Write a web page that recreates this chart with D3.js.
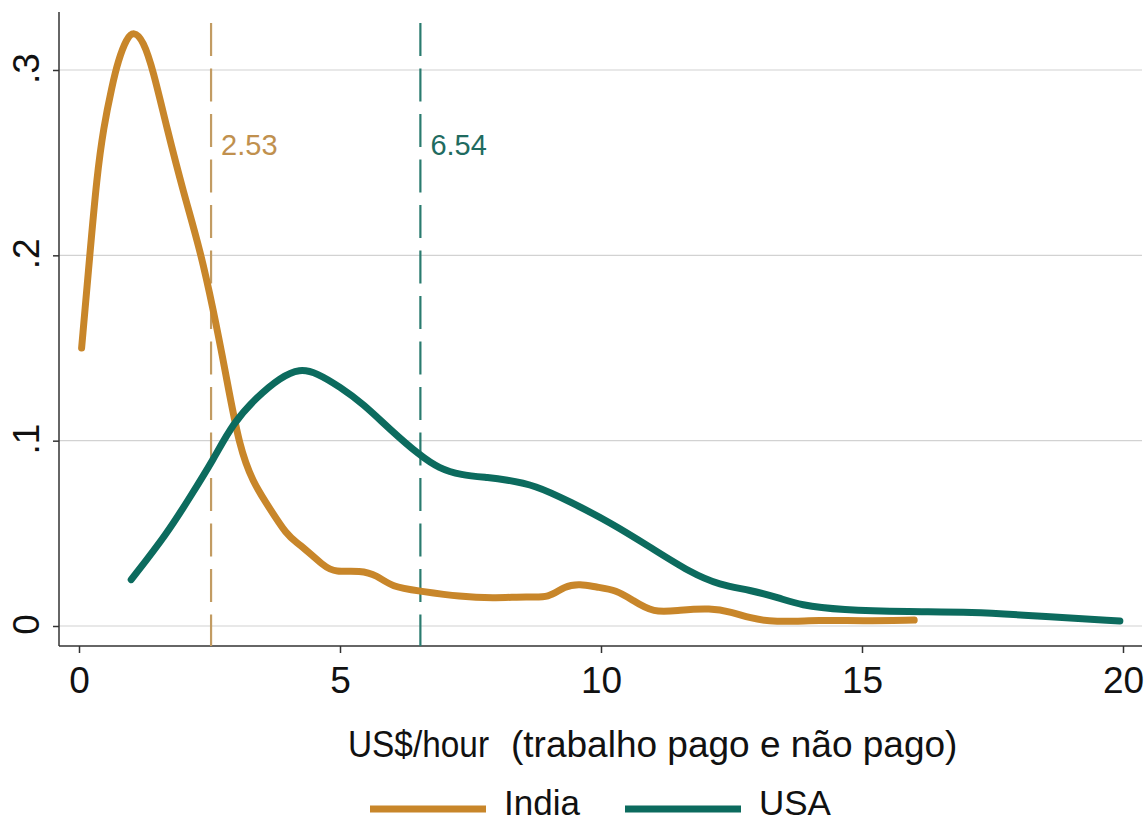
<!DOCTYPE html>
<html>
<head>
<meta charset="utf-8">
<script src="https://cdn.jsdelivr.net/npm/d3@7"></script>
<style>
  body { margin: 0; background: #fff; }
  svg { display: block; font-family: "Liberation Sans", Arial, sans-serif; }
</style>
</head>
<body>
<div id="chart"></div>
<script>
// density of hourly value (US$/hour)
const indiaX = [0.05, 0.21, 0.34, 0.47, 0.63, 0.75, 0.91, 1.05, 1.23, 1.42, 1.68, 2.0, 2.32, 2.57, 2.8, 3.08, 3.35, 3.55, 4.0, 4.2, 4.7, 4.9, 5.4, 5.7, 6.0, 6.5, 7.3, 8.0, 8.6, 9.0, 9.3, 9.6, 9.9, 10.3, 10.6, 11.0, 11.5, 12.1, 12.5, 12.85, 13.3, 14.2, 15.0, 16.0];
const indiaY = [0.150, 0.201, 0.242, 0.269, 0.291, 0.305, 0.317, 0.321, 0.316, 0.300, 0.269, 0.234, 0.203, 0.171, 0.138, 0.095, 0.077, 0.068, 0.048, 0.045, 0.032, 0.029, 0.030, 0.0275, 0.021, 0.019, 0.0157, 0.015, 0.016, 0.015, 0.0216, 0.0227, 0.021, 0.0194, 0.014, 0.007, 0.0086, 0.0097, 0.0076, 0.0043, 0.002, 0.0032, 0.0027, 0.0032];

const usaX = [1.0, 1.69, 2.13, 2.57, 2.95, 3.41, 3.85, 4.23, 4.56, 5.0, 5.44, 5.96, 6.53, 6.9, 7.3, 7.87, 8.16, 8.74, 9.41, 10.17, 10.94, 11.7, 12.28, 12.85, 13.43, 13.81, 14.58, 15.92, 17.07, 18.41, 19.94];
const usaY = [0.025, 0.050, 0.0697, 0.0896, 0.1095, 0.1236, 0.134, 0.139, 0.1365, 0.129, 0.120, 0.106, 0.092, 0.085, 0.0815, 0.080, 0.079, 0.076, 0.067, 0.056, 0.0426, 0.029, 0.022, 0.0195, 0.015, 0.0113, 0.0086, 0.0076, 0.0076, 0.0054, 0.0027];

const meanValues = [2.53, 6.54];
const meanLabels = ["2.53", "6.54"];
const seriesNames = ["India", "USA"];

const xTicks = [0, 5, 10, 15, 20];
const yTicks = [0, 0.1, 0.2, 0.3];
const yTickLabels = ["0", ".1", ".2", ".3"];

const colors = ["#c8862a", "#0c6b5e"];
const dashColors = ["#c29b62", "#2a7b6f"];
const labelColors = ["#c0904e", "#1f6b60"];

var width = 1146, height = 823;
var plot = {left: 59, right: 1142, top: 12, bottom: 646};

const svg = d3.select("#chart")
  .append("svg")
    .attr("width", width)
    .attr("height", height);

var x = d3.scaleLinear().domain([0, 20]).range([79, 1123]);
var y = d3.scaleLinear().domain([0, 0.3]).range([626, 70]);

// gridlines
svg.append("g")
  .selectAll("line")
  .data(yTicks)
  .enter()
  .append("line")
    .attr("x1", plot.left)
    .attr("x2", plot.right)
    .attr("y1", d => y(d))
    .attr("y2", d => y(d))
    .attr("stroke", "#d2d2d2")
    .attr("stroke-width", 1.2);

// Y axis
const yAxis = svg.append("g")
  .attr("transform", `translate(${plot.left},0)`)
  .call(d3.axisLeft(y).tickValues(yTicks).tickSize(6).tickFormat((d, i) => yTickLabels[i]));
yAxis.select(".domain").attr("d", `M0,${plot.top}V${plot.bottom}`).attr("stroke", "#333").attr("stroke-width", 1.5);
yAxis.selectAll(".tick line").attr("stroke", "#333").attr("stroke-width", 1.5);
yAxis.selectAll(".tick text")
  .attr("font-size", 37)
  .attr("fill", "#111")
  .attr("text-anchor", "middle")
  .attr("x", 0).attr("y", 0).attr("dy", 0)
  .attr("dominant-baseline", "central")
  .attr("transform", "translate(-33,-2)rotate(-90)");

// X axis
const xAxis = svg.append("g")
  .attr("transform", `translate(0,${plot.bottom})`)
  .call(d3.axisBottom(x).tickValues(xTicks).tickSize(7).tickFormat(d3.format("d")));
xAxis.select(".domain").attr("d", `M${plot.left},0H${plot.right}`).attr("stroke", "#333").attr("stroke-width", 1.5);
xAxis.selectAll(".tick line").attr("stroke", "#333").attr("stroke-width", 1.5);
xAxis.selectAll(".tick text")
  .attr("font-size", 37)
  .attr("fill", "#111")
  .attr("x", 0)
  .attr("y", 47)
  .attr("dy", 0);

// dashed mean lines
meanValues.forEach((m, i) => {
  svg.append("line")
    .attr("x1", x(m)).attr("x2", x(m))
    .attr("y1", plot.top).attr("y2", plot.bottom)
    .attr("stroke", dashColors[i])
    .attr("stroke-width", 2.2)
    .attr("stroke-dasharray", "33,12.5")
    .attr("stroke-dashoffset", 34.5);
  svg.append("text")
    .attr("x", x(m) + 10)
    .attr("y", 155)
    .attr("font-size", 29)
    .attr("fill", labelColors[i])
    .text(meanLabels[i]);
});

// density lines
var line = d3.line()
  .x(d => x(d[0]))
  .y(d => y(d[1]))
  .curve(d3.curveBasis);

const series = [d3.zip(indiaX, indiaY), d3.zip(usaX, usaY)];
series.forEach((s, i) => {
  svg.append("path")
    .datum(s)
    .attr("d", line)
    .attr("fill", "none")
    .attr("stroke", colors[i])
    .attr("stroke-width", 7)
    .attr("stroke-linecap", "round")
    .attr("stroke-linejoin", "round");
});

// axis title
svg.append("text")
  .attr("x", 348)
  .attr("y", 757)
  .attr("font-size", 37)
  .attr("fill", "#111")
  .attr("textLength", 141)
  .attr("lengthAdjust", "spacingAndGlyphs")
  .text("US$/hour");
svg.append("text")
  .attr("x", 511)
  .attr("y", 757)
  .attr("font-size", 37)
  .attr("fill", "#111")
  .text("(trabalho pago e não pago)");

// legend
var legX = [370, 625];
seriesNames.forEach((n, i) => {
  svg.append("line")
    .attr("x1", legX[i]).attr("x2", legX[i] + 116)
    .attr("y1", 809).attr("y2", 809)
    .attr("stroke", colors[i])
    .attr("stroke-width", 7);
  svg.append("text")
    .attr("x", legX[i] + 134)
    .attr("y", 815)
    .attr("font-size", 35)
    .attr("fill", "#111")
    .text(n);
});
</script>
</body>
</html>
